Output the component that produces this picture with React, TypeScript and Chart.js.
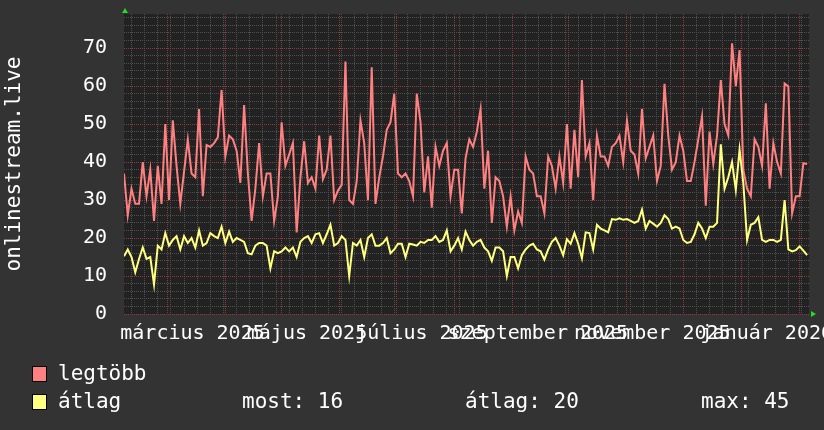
import React, { useEffect, useRef } from "react";
import { Chart, registerables } from "chart.js";

Chart.register(...registerables);

// one sample every 2 days starting 2025-02-06
const START_ISO = "2025-02-06";
const SAMPLE_STEP_DAYS = 2;
const SPAN_DAYS = 365;

const legtobb = [
  37, 26, 33, 29, 29, 40, 31, 38, 24.5, 39, 29, 50, 30, 51, 39, 29, 37.5, 46, 37, 36,
  54, 31, 44.5, 44, 45, 46.5, 59, 41.5, 47, 46, 43, 34.5, 55, 37, 24.5, 33, 45, 31, 37, 37,
  24.5, 31, 50.5, 39, 42, 45, 21.5, 36, 45.5, 34.5, 36, 33, 47, 35.5, 38, 47, 30, 32.5, 34, 66.5,
  30, 29, 35, 51, 45, 30, 65, 29, 36, 41.5, 48.5, 50.5, 58, 37, 36, 37, 35, 31, 58, 50.5,
  32, 41.5, 28, 44, 39, 43, 45, 31, 38, 38, 26.5, 41, 46, 44, 48, 54, 33, 43, 24, 36,
  35, 31, 23, 31, 22, 27, 24, 41.5, 38, 37, 31, 31, 26.5, 41.5, 39, 33, 41.5, 34.5, 50, 33,
  48.5, 36, 61.6, 41.5, 45, 30, 47, 41.5, 41.5, 39, 44, 45, 47, 40, 51, 43, 42, 37, 54, 41,
  44, 47, 35, 39, 60.6, 47, 38, 40, 47, 43, 35, 35, 40, 46, 52, 28.5, 48, 39.5, 47, 61.6,
  50, 47, 71.3, 60, 69.5, 38, 33, 31, 46, 44, 39, 55.5, 33, 45, 40, 37, 60.7, 59.9, 26.5, 31,
  31, 39.7, 39.5,
];

const atlag = [
  15.2, 17, 15, 11, 14.5, 17.5, 14.5, 15, 7.8, 18, 17, 21.3, 18, 19.5, 20.5, 17, 20.5, 18.7, 20, 17.5,
  22, 18, 18.7, 21.3, 20.5, 20, 23, 18.7, 21.7, 19, 20, 19.5, 19, 16, 15.7, 18, 18.7, 18.7, 18, 12,
  16.5, 16, 16.5, 17.5, 16.5, 17.5, 15, 19, 20, 20.5, 18.7, 21, 21.3, 18.7, 21, 23.5, 18, 18.7, 20.5, 19.5,
  10, 18.7, 18, 19.5, 15, 20, 21, 18, 18, 18.7, 20, 16, 17, 18.5, 18.5, 15, 18.5, 18.3, 18, 19,
  18.7, 19.5, 19.5, 20.5, 19, 19.5, 22, 16.5, 18, 20, 17, 21.7, 19.5, 18, 19, 19.5, 17.5, 16.5, 14, 17.5,
  17.5, 16.5, 10, 15, 15, 12, 15.5, 17, 18, 18.5, 17, 16.5, 14.3, 17, 19, 20, 18, 15.5, 19.7, 18.5,
  21.3, 18.5, 14.7, 21.5, 21.3, 17, 23.5, 22.5, 22, 21.5, 25, 24.8, 25.2, 24.8, 25, 24.5, 24, 24.5, 27.5, 22.5,
  24.5, 23.8, 23, 24, 26, 25, 22.5, 23, 22.5, 19.5, 18.7, 19, 21, 24, 22.5, 20, 23, 23, 24, 44.7,
  33, 36, 40, 32.7, 43.3, 34.5, 19.5, 23.5, 24, 25.5, 19.5, 19, 19.5, 19.5, 19, 19.5, 30, 17, 16.5, 16.8,
  17.8, 16.7, 15.5,
];

const monthStarts = [
  "2025-03-01", "2025-04-01", "2025-05-01", "2025-06-01", "2025-07-01", "2025-08-01",
  "2025-09-01", "2025-10-01", "2025-11-01", "2025-12-01", "2026-01-01", "2026-02-01",
];
const labelMonths = ["2025-03-01", "2025-05-01", "2025-07-01", "2025-09-01", "2025-11-01", "2026-01-01"];
const labelNames = ["március 2025", "május 2025", "július 2025", "szeptember 2025", "november 2025", "január 2026"];
const LABEL_OFFSET_DAYS = 13.5;
const FIRST_MONDAY_ISO = "2025-02-10";

const Y_MAX = 79;
const Y_MAJOR_STEP = 10;
const Y_MINOR_STEP = 2;

const seriesNames = ["legtöbb", "átlag"];
const seriesColors = ["#ff8080", "#ffff80"];
const statLabels = ["most: 16", "átlag: 20", "max: 45"];
const yTitle = "onlinestream.live";

const DAY_MS = 86400000;
const dayOf = (iso: string) => (Date.parse(iso + "T00:00:00Z") - Date.parse(START_ISO + "T00:00:00Z")) / DAY_MS;

const MONO = '"DejaVu Sans Mono", monospace';

export default function App() {
  const ref = useRef<HTMLCanvasElement | null>(null);

  useEffect(() => {
    if (!ref.current) return;
    const toPoints = (arr: number[]) => arr.map((v, i) => ({ x: i * SAMPLE_STEP_DAYS, y: v }));
    const monthTicks = monthStarts.map((d) => ({ value: dayOf(d) }));
    const labelTicks = labelMonths.map((d) => ({ value: dayOf(d) + LABEL_OFFSET_DAYS }));
    const weekTicks: { value: number }[] = [];
    for (let d = dayOf(FIRST_MONDAY_ISO); d <= SPAN_DAYS; d += 7) weekTicks.push({ value: d });

    const bgPlugin = {
      id: "plotBg",
      beforeDraw(chart: any) {
        const { ctx, chartArea } = chart;
        ctx.save();
        ctx.fillStyle = "#222222";
        ctx.fillRect(chartArea.left, chartArea.top, chartArea.right - chartArea.left, chartArea.bottom - chartArea.top);
        ctx.restore();
      },
    };
    const arrowPlugin = {
      id: "arrows",
      afterDraw(chart: any) {
        const { ctx, chartArea } = chart;
        ctx.save();
        ctx.fillStyle = "#22dd22";
        const l = chartArea.left + 1;
        const t = chartArea.top;
        ctx.beginPath();
        ctx.moveTo(l - 3, t - 1);
        ctx.lineTo(l + 3, t - 1);
        ctx.lineTo(l, t - 6);
        ctx.closePath();
        ctx.fill();
        const r = chartArea.right;
        const b = chartArea.bottom;
        ctx.beginPath();
        ctx.moveTo(r + 2, b - 3);
        ctx.lineTo(r + 2, b + 3);
        ctx.lineTo(r + 7, b);
        ctx.closePath();
        ctx.fill();
        ctx.restore();
      },
    };

    const hiddenXFit = (s: any) => {
      s.height = 0;
      s.paddingLeft = 0;
      s.paddingRight = 0;
    };

    const chart = new Chart(ref.current, {
      type: "line",
      data: {
        datasets: [
          {
            label: seriesNames[0],
            data: toPoints(legtobb),
            borderColor: seriesColors[0],
            borderWidth: 2,
            pointRadius: 0,
            tension: 0,
            order: 1,
          },
          {
            label: seriesNames[1],
            data: toPoints(atlag),
            borderColor: seriesColors[1],
            borderWidth: 2,
            pointRadius: 0,
            tension: 0,
            order: 0,
          },
        ],
      },
      options: {
        animation: false,
        responsive: false,
        layout: { padding: { top: 14, right: 15, bottom: 86, left: 0 } },
        plugins: { legend: { display: false }, tooltip: { enabled: false } },
        scales: {
          x: {
            type: "linear",
            position: "bottom",
            min: 0,
            max: SPAN_DAYS,
            afterBuildTicks: (s: any) => {
              s.ticks = monthTicks.map((t) => ({ ...t }));
            },
            ticks: { display: false },
            grid: { color: "#8c3c3c", drawTicks: false, z: -1 },
            border: { display: false, dash: [1, 1] },
            afterFit: hiddenXFit,
          },
          xw: {
            type: "linear",
            position: "bottom",
            min: 0,
            max: SPAN_DAYS,
            afterBuildTicks: (s: any) => {
              s.ticks = weekTicks.map((t) => ({ ...t }));
            },
            ticks: { display: false },
            grid: { color: "#505050", drawTicks: false, z: -2 },
            border: { display: false, dash: [1, 1] },
            afterFit: hiddenXFit,
          },
          xl: {
            type: "linear",
            position: "bottom",
            min: 0,
            max: SPAN_DAYS,
            afterBuildTicks: (s: any) => {
              s.ticks = labelTicks.map((t) => ({ ...t }));
            },
            ticks: {
              autoSkip: false,
              maxRotation: 0,
              minRotation: 0,
              padding: 8,
              color: "#ffffff",
              font: { family: MONO, size: 20 },
              callback: (_v: any, i: number) => labelNames[i],
            },
            grid: { display: false, drawTicks: false },
            border: { display: false },
            afterFit: (s: any) => {
              s.height = 30;
              s.paddingLeft = 0;
              s.paddingRight = 0;
            },
          },
          y: {
            type: "linear",
            position: "left",
            min: 0,
            max: Y_MAX,
            ticks: {
              stepSize: Y_MAJOR_STEP,
              includeBounds: false,
              padding: 17,
              color: "#ffffff",
              font: { family: MONO, size: 20 },
            },
            grid: { color: "#8c3c3c", drawTicks: false, z: -1 },
            border: { display: false, dash: [1, 1] },
            title: {
              display: true,
              text: yTitle,
              color: "#ffffff",
              font: { family: MONO, size: 21 },
              padding: { top: 2, bottom: 0 },
            },
            afterFit: (s: any) => {
              s.width = 124;
              s.paddingTop = 0;
              s.paddingBottom = 0;
            },
          },
          ym: {
            type: "linear",
            position: "left",
            min: 0,
            max: Y_MAX,
            ticks: { display: false, stepSize: Y_MINOR_STEP, includeBounds: false },
            grid: { color: "#505050", drawTicks: false, z: -2 },
            border: { display: false, dash: [1, 1] },
            afterFit: (s: any) => {
              s.width = 0;
              s.paddingTop = 0;
              s.paddingBottom = 0;
            },
          },
        },
      } as any,
      plugins: [bgPlugin, arrowPlugin],
    });
    return () => chart.destroy();
  }, []);

  const textStyle: React.CSSProperties = {
    position: "absolute",
    fontFamily: MONO,
    fontSize: 21,
    lineHeight: "21px",
    color: "#ffffff",
    whiteSpace: "pre",
  };
  const boxStyle = (c: string, top: number): React.CSSProperties => ({
    position: "absolute",
    left: 32,
    top,
    width: 13,
    height: 14,
    background: c,
    border: "1px solid #000",
  });

  return (
    <div
      style={{
        position: "fixed",
        left: 0,
        top: 0,
        width: 824,
        height: 430,
        background: "#333333",
        overflow: "hidden",
      }}
    >
      <canvas ref={ref} width={824} height={430} style={{ position: "absolute", left: 0, top: 0, width: 824, height: 430 }} />
      <div style={boxStyle(seriesColors[0], 366)} />
      <div style={{ ...textStyle, left: 58, top: 363 }}>{seriesNames[0]}</div>
      <div style={boxStyle(seriesColors[1], 394)} />
      <div style={{ ...textStyle, left: 58, top: 391 }}>{seriesNames[1]}</div>
      <div style={{ ...textStyle, left: 242, top: 391 }}>{statLabels[0]}</div>
      <div style={{ ...textStyle, left: 465, top: 391 }}>{statLabels[1]}</div>
      <div style={{ ...textStyle, left: 701, top: 391 }}>{statLabels[2]}</div>
    </div>
  );
}
